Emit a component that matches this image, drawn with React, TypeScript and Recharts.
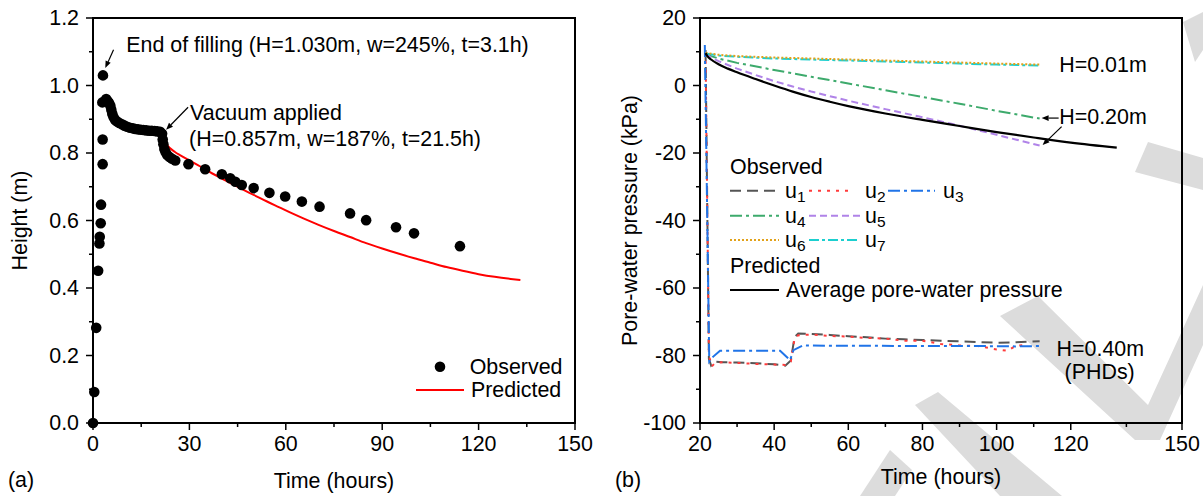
import React from 'react';
import {
  ComposedChart,
  Scatter,
  Line,
  XAxis,
  YAxis,
  ReferenceArea,
  ReferenceDot,
  Legend,
} from 'recharts';

const FONT = '"Liberation Sans", Arial, Helvetica, sans-serif';
const FS = 21.4;

// (a) height of the fill vs time
const obsTime = [
  0, 0.4, 1.0, 1.6, 2.0, 2.1, 2.4, 2.5, 3.0, 3.0, 2.9, 3.1,
  4.1, 4.6, 5.0, 5.4, 5.7, 6.0, 6.4, 6.9, 7.5, 8.2, 9.0, 9.8, 10.6, 11.5, 12.4, 13.2,
  14.0, 14.9, 15.7, 16.6, 17.5, 18.3, 19.2, 20.0, 20.9, 21.5,
  21.7, 21.9, 22.2, 22.6, 23.1, 23.8, 24.6, 25.6,
  29.7, 34.9, 40.1, 42.7, 44.3, 46.3, 50.0, 54.9, 59.8, 65.0, 70.5, 80.0, 85.0, 94.3, 99.9, 114.2,
];
const obsHeight = [
  0, 0.092, 0.282, 0.451, 0.532, 0.552, 0.592, 0.647, 0.767, 0.84, 0.95, 1.03,
  0.96, 0.953, 0.948, 0.94, 0.928, 0.916, 0.906, 0.898, 0.893, 0.889, 0.885, 0.881, 0.878, 0.875, 0.873, 0.871,
  0.87, 0.869, 0.868, 0.867, 0.866, 0.866, 0.865, 0.864, 0.863, 0.857,
  0.84, 0.826, 0.812, 0.802, 0.794, 0.788, 0.783, 0.778,
  0.767, 0.752, 0.737, 0.725, 0.715, 0.705, 0.696, 0.682, 0.671, 0.656, 0.641, 0.621, 0.601, 0.58, 0.562, 0.524,
];
const predTime = [
  21.5, 22.0, 22.7, 24, 25.5, 27.2, 30, 33.4, 37, 40, 43.7, 47, 50, 54, 58, 62, 66, 70, 75, 80,
  85, 90, 95, 100, 105, 110, 115, 120, 125, 130, 133,
];
const predHeight = [
  0.857, 0.843, 0.829, 0.814, 0.803, 0.793, 0.778, 0.76, 0.74, 0.725, 0.706, 0.69, 0.676, 0.657,
  0.639, 0.621, 0.604, 0.588, 0.569, 0.551, 0.533, 0.517, 0.502, 0.488, 0.475, 0.462, 0.451,
  0.441, 0.433, 0.427, 0.424,
];
const timeTicksA = [0, 15, 30, 45, 60, 75, 90, 105, 120, 135, 150];
const timeMajorsA = [0, 30, 60, 90, 120, 150];
const heightTicks = [0, 0.1, 0.2, 0.3, 0.4, 0.5, 0.6, 0.7, 0.8, 0.9, 1.0, 1.1, 1.2];
const heightMajors = [0, 0.2, 0.4, 0.6, 0.8, 1.0, 1.2];

// (b) pore-water pressure vs time
const u1Time = [21.5, 22.4, 23.0, 24.0, 26.0, 30, 35, 40, 43, 44.5, 45.5, 46.5, 50, 55, 60, 65, 70, 75, 80, 85, 90, 95, 100, 105, 111.6];
const u1P = [10.5, -81, -83.0, -81.8, -82.0, -82.1, -82.3, -82.6, -83.0, -81.5, -74.5, -73.5, -73.6, -73.9, -74.3, -74.6, -75.0, -75.2, -75.4, -75.6, -75.8, -76.0, -76.2, -76.1, -75.8];
const u2Time = [21.5, 22.4, 23.2, 24.0, 26.0, 30, 35, 40, 43, 44.5, 45.5, 46.5, 50, 55, 60, 65, 70, 75, 80, 85, 90, 95, 100, 103, 105, 108];
const u2P = [10, -80, -83.2, -82.3, -82.0, -82.2, -82.5, -82.7, -82.8, -81.8, -75, -74.0, -73.8, -74.2, -74.4, -74.8, -75.0, -75.6, -75.6, -76.6, -77.0, -77.2, -78.2, -78.6, -77.2, -76.8];
const u3Time = [21.3, 22.5, 23.5, 25.4, 30, 35, 41.6, 44.3, 45.2, 47.8, 55, 65, 75, 85, 95, 105, 111.6];
const u3P = [12, -81.8, -80.4, -78.6, -78.6, -78.6, -78.6, -81.4, -78.4, -77.0, -77.1, -77.1, -77.2, -77.2, -77.2, -77.3, -77.2];
const u4Time = [21.5, 23, 25, 30, 40, 50, 60, 70, 80, 90, 100, 111.6];
const u4P = [9.5, 8.7, 8.0, 6.7, 4.6, 2.6, 0.6, -1.4, -3.4, -5.4, -7.5, -9.8];
const u5Time = [21.5, 23, 25, 30, 35, 40, 45, 50, 60, 70, 80, 90, 100, 111.6];
const u5P = [9.5, 8.3, 7.2, 5.0, 3.1, 1.3, -0.3, -1.8, -4.5, -7.0, -9.4, -11.9, -14.6, -17.8];
const u6Time = [21.5, 25, 30, 40, 50, 60, 70, 80, 90, 100, 111.6];
const u6P = [9.7, 9.1, 8.7, 8.3, 8.0, 7.7, 7.4, 7.1, 6.8, 6.5, 6.2];
const u7Time = [21.5, 25, 30, 40, 50, 60, 70, 80, 90, 100, 111.6];
const u7P = [9.5, 8.9, 8.5, 8.0, 7.7, 7.4, 7.1, 6.8, 6.5, 6.2, 5.9];
const avgTime = [21.5, 22, 23, 25, 27.5, 30, 35, 40, 45, 50, 55, 60, 70, 80, 90, 100, 110, 120, 132.4];
const avgP = [9.6, 8.7, 7.7, 6.3, 5.0, 3.9, 1.9, 0.0, -1.8, -3.4, -4.8, -6.1, -8.3, -10.2, -12.0, -13.8, -15.4, -16.9, -18.4];
const timeTicksB = [20, 30, 40, 50, 60, 70, 80, 90, 100, 110, 120, 135, 150];
const timeMajorsB = [20, 40, 60, 80, 100, 120, 150];
const pTicks = [-100, -90, -80, -70, -60, -50, -40, -30, -20, -10, 0, 10, 20];
const pMajors = [-100, -80, -60, -40, -20, 0, 20];

const rows = (ts: number[], vs: number[]) => ts.map((t, i) => ({ t, v: vs[i] }));

const series = [
  { key: 'u1', rows: rows(u1Time, u1P), color: '#555555', dash: '11 6', width: 2 },
  { key: 'u2', rows: rows(u2Time, u2P), color: '#ff3b3b', dash: '3 6', width: 2 },
  { key: 'u3', rows: rows(u3Time, u3P), color: '#2074e8', dash: '12 4 3 4', width: 2 },
  { key: 'u4', rows: rows(u4Time, u4P), color: '#3daa6c', dash: '12 4 3 4', width: 2 },
  { key: 'u5', rows: rows(u5Time, u5P), color: '#b083e8', dash: '7 4', width: 2 },
  { key: 'u7', rows: rows(u7Time, u7P), color: '#1ccfcf', dash: '10 3 3 3', width: 2 },
  { key: 'u6', rows: rows(u6Time, u6P), color: '#e2a21a', dash: '2 2', width: 2 },
];
const styleOf = (k: string) => series.find((s) => s.key === k)!;

const AX = { stroke: '#000', strokeWidth: 2 };
const isIn = (list: number[], v: number) => list.some((m) => Math.abs(m - v) < 1e-6);

const makeXTick = (majors: number[], fmt: (v: number) => string) => (props: any) => {
  const { x, y, payload } = props;
  const major = isIn(majors, payload.value);
  return (
    <g>
      <line x1={x} x2={x} y1={y} y2={y + (major ? 7 : 4)} stroke="#000" strokeWidth={1.5} />
      {major && (
        <text x={x} y={y + 21} textAnchor="middle" dominantBaseline="central" fontSize={FS} fontFamily={FONT} fill="#000">
          {fmt(payload.value)}
        </text>
      )}
    </g>
  );
};

const makeYTick = (majors: number[], fmt: (v: number) => string) => (props: any) => {
  const { x, y, payload } = props;
  const major = isIn(majors, payload.value);
  return (
    <g>
      <line x1={x - (major ? 7 : 4)} x2={x} y1={y} y2={y} stroke="#000" strokeWidth={1.5} />
      {major && (
        <text x={x - 14} y={y} textAnchor="end" dominantBaseline="central" fontSize={FS} fontFamily={FONT} fill="#000">
          {fmt(payload.value)}
        </text>
      )}
    </g>
  );
};

const XTickA = makeXTick(timeMajorsA, (v) => String(v));
const YTickA = makeYTick(heightMajors, (v) => v.toFixed(1));
const XTickB = makeXTick(timeMajorsB, (v) => String(v));
const YTickB = makeYTick(pMajors, (v) => String(v));

const txt = (x: number, y: number, s: React.ReactNode, anchor: 'start' | 'middle' | 'end' = 'start') => (
  <text x={x} y={y} textAnchor={anchor} dominantBaseline="central" fontSize={FS} fontFamily={FONT} fill="#000">
    {s}
  </text>
);

const Arrow = ({ x1, y1, x2, y2 }: { x1: number; y1: number; x2: number; y2: number }) => {
  const a = Math.atan2(y2 - y1, x2 - x1);
  const L = 7;
  const W = 2.8;
  const bx = x2 - L * Math.cos(a);
  const by = y2 - L * Math.sin(a);
  const pts = `${x2},${y2} ${bx + W * Math.sin(a)},${by - W * Math.cos(a)} ${bx - W * Math.sin(a)},${by + W * Math.cos(a)}`;
  return (
    <g>
      <line x1={x1} y1={y1} x2={bx} y2={by} stroke="#000" strokeWidth={1.2} />
      <polygon points={pts} fill="#000" />
    </g>
  );
};

const xTitle = (label: string, tag: string, dy: number) => (p: any) => {
  const vb = p.viewBox || { x: 0, y: 0, width: 0, height: 0 };
  return (
    <g>
      {txt(vb.x + vb.width / 2, vb.y + dy, label, 'middle')}
      {txt(vb.x - 85, vb.y + 57, tag, 'start')}
    </g>
  );
};

const yTitle = (label: string, cx: number) => (p: any) => {
  const vb = p.viewBox || { x: 0, y: 0, width: 0, height: 0 };
  const cy = vb.y + vb.height / 2;
  return (
    <text
      x={cx}
      y={cy}
      transform={`rotate(-90 ${cx} ${cy})`}
      textAnchor="middle"
      dominantBaseline="central"
      fontSize={FS}
      fontFamily={FONT}
      fill="#000"
    >
      {label}
    </text>
  );
};

const BlackDot = (p: any) => <circle cx={p.cx} cy={p.cy} r={5.3} fill="#000" />;

const LegendA = () => (
  <svg width={180} height={56}>
    <circle cx={40} cy={16.7} r={5.3} fill="#000" />
    {txt(69.7, 16.7, 'Observed')}
    <line x1={16} x2={64} y1={40} y2={40} stroke="#ff0000" strokeWidth={2} />
    {txt(70.9, 40, 'Predicted')}
  </svg>
);

const sub = (n: string) => (
  <>
    u
    <tspan fontSize={15.5} dy={5}>
      {n}
    </tspan>
  </>
);

const sample = (k: string, x1: number, x2: number, y: number) => {
  const s = styleOf(k);
  return <line x1={x1} x2={x2} y1={y} y2={y} stroke={s.color} strokeWidth={s.width} strokeDasharray={s.dash} />;
};

const LegendB = () => (
  <svg width={380} height={160}>
    {txt(10, 16.7, 'Observed')}
    {sample('u1', 10, 59, 40.7)}
    {txt(65, 40.7, sub('1'))}
    {sample('u2', 89, 132, 40.7)}
    {txt(145, 40.7, sub('2'))}
    {sample('u3', 168, 215, 40.7)}
    {txt(223, 40.7, sub('3'))}
    {sample('u4', 10, 59, 65.7)}
    {txt(65, 65.7, sub('4'))}
    {sample('u5', 89, 140, 65.7)}
    {txt(145, 65.7, sub('5'))}
    {sample('u6', 10, 59, 90)}
    {txt(65, 90, sub('6'))}
    {sample('u7', 89, 140, 90)}
    {txt(145, 90, sub('7'))}
    {txt(10, 116, 'Predicted')}
    <line x1={10} x2={59} y1={140} y2={140} stroke="#000" strokeWidth={2.2} />
    {txt(66, 140, 'Average pore-water pressure')}
  </svg>
);

const Watermark = () => (
  <svg width={1203} height={496} style={{ position: 'absolute', left: 0, top: 0 }}>
    <g fill="#dcdcdc">
      <polygon points="1000,316 1038,296 1148,405 1203,285 1203,345 1160,440 1135,440" />
      <polygon points="915,405 938,392 1062,496 1000,496" />
      <polygon points="860,496 890,450 912,470 895,496" />
      <polygon points="1135,172 1148,142 1203,158 1203,190" />
      <polygon points="1183,22 1203,12 1203,50 1195,62" />
    </g>
  </svg>
);

export default function App() {
  return (
    <div style={{ position: 'absolute', left: 0, top: 0, width: 1203, height: 496, background: '#fff' }}>
      <Watermark />
      <div style={{ position: 'absolute', left: 0, top: 0 }}>
        <ComposedChart width={600} height={496} margin={{ top: 18, right: 25, bottom: 43, left: 0 }}>
          <XAxis
            type="number"
            dataKey="t"
            domain={[0, 150]}
            ticks={timeTicksA}
            interval={0}
            tickSize={0}
            tickMargin={0}
            tick={XTickA}
            tickLine={false}
            height={30}
            axisLine={AX}
            label={{ content: xTitle('Time (hours)', '(a)', 58) }}
          />
          <YAxis
            type="number"
            domain={[0, 1.2]}
            ticks={heightTicks}
            interval={0}
            tickSize={0}
            tickMargin={0}
            tick={YTickA}
            tickLine={false}
            width={93}
            axisLine={AX}
            label={{ content: yTitle('Height (m)', 20) }}
          />
          <ReferenceArea x1={0} x2={150} y1={0} y2={1.2} fill="none" stroke="#000" strokeWidth={2} ifOverflow="visible" />
          <Line data={rows(predTime, predHeight)} dataKey="v" type="monotone" stroke="#ff0000" strokeWidth={2} dot={false} isAnimationActive={false} />
          <Scatter data={rows(obsTime, obsHeight)} dataKey="v" shape={BlackDot} isAnimationActive={false} />
          <ReferenceDot
            x={3.1}
            y={1.03}
            r={0}
            ifOverflow="visible"
            shape={(p: any) => (
              <g>
                <Arrow x1={p.cx + 10.6} y1={p.cy - 25.6} x2={p.cx + 2.3} y2={p.cy - 7.3} />
                {txt(p.cx + 23.3, p.cy - 30.6, 'End of filling (H=1.030m, w=245%, t=3.1h)')}
              </g>
            )}
          />
          <ReferenceDot
            x={21.5}
            y={0.857}
            r={0}
            ifOverflow="visible"
            shape={(p: any) => (
              <g>
                <Arrow x1={p.cx + 26} y1={p.cy - 26.5} x2={p.cx + 4} y2={p.cy - 4} />
                {txt(p.cx + 28, p.cy - 21, 'Vacuum applied')}
                {txt(p.cx + 27, p.cy + 5, '(H=0.857m, w=187%, t=21.5h)')}
              </g>
            )}
          />
          <Legend
            layout="vertical"
            align="center"
            verticalAlign="middle"
            wrapperStyle={{ left: 400, top: 350, width: 180, height: 56 }}
            content={LegendA}
          />
        </ComposedChart>
      </div>
      <div style={{ position: 'absolute', left: 600, top: 0 }}>
        <ComposedChart width={603} height={496} margin={{ top: 18, right: 21, bottom: 43, left: 0 }}>
          <XAxis
            type="number"
            dataKey="t"
            domain={[20, 150]}
            ticks={timeTicksB}
            interval={0}
            tickSize={0}
            tickMargin={0}
            tick={XTickB}
            tickLine={false}
            height={30}
            axisLine={AX}
            label={{ content: xTitle('Time (hours)', '(b)', 54) }}
          />
          <YAxis
            type="number"
            domain={[-100, 20]}
            ticks={pTicks}
            interval={0}
            tickSize={0}
            tickMargin={0}
            tick={YTickB}
            tickLine={false}
            width={100}
            axisLine={AX}
            label={{ content: yTitle('Pore-water pressure (kPa)', 30) }}
          />
          <ReferenceArea x1={20} x2={150} y1={-100} y2={20} fill="none" stroke="#000" strokeWidth={2} ifOverflow="visible" />
          {series.map((s) => (
            <Line
              key={s.key}
              data={s.rows}
              dataKey="v"
              type="linear"
              stroke={s.color}
              strokeWidth={s.width}
              strokeDasharray={s.dash}
              dot={false}
              isAnimationActive={false}
            />
          ))}
          <Line data={rows(avgTime, avgP)} dataKey="v" type="monotone" stroke="#000" strokeWidth={2.2} dot={false} isAnimationActive={false} />
          <ReferenceDot
            x={111.6}
            y={6.2}
            r={0}
            ifOverflow="visible"
            shape={(p: any) => txt(p.cx + 19.7, p.cy, 'H=0.01m')}
          />
          <ReferenceDot
            x={111.6}
            y={-9.8}
            r={0}
            ifOverflow="visible"
            shape={(p: any) => (
              <g>
                <Arrow x1={p.cx + 19} y1={p.cy - 0.5} x2={p.cx + 2} y2={p.cy - 0.5} />
                <Arrow x1={p.cx + 22} y1={p.cy + 8} x2={p.cx + 3} y2={p.cy + 26.5} />
                {txt(p.cx + 19.7, p.cy - 1.4, 'H=0.20m')}
              </g>
            )}
          />
          <ReferenceDot
            x={111.6}
            y={-77.2}
            r={0}
            ifOverflow="visible"
            shape={(p: any) => (
              <g>
                {txt(p.cx + 17, p.cy + 3, 'H=0.40m')}
                {txt(p.cx + 25, p.cy + 26, '(PHDs)')}
              </g>
            )}
          />
          <Legend
            layout="vertical"
            align="center"
            verticalAlign="middle"
            wrapperStyle={{ left: 120, top: 150, width: 380, height: 160 }}
            content={LegendB}
          />
        </ComposedChart>
      </div>
    </div>
  );
}
